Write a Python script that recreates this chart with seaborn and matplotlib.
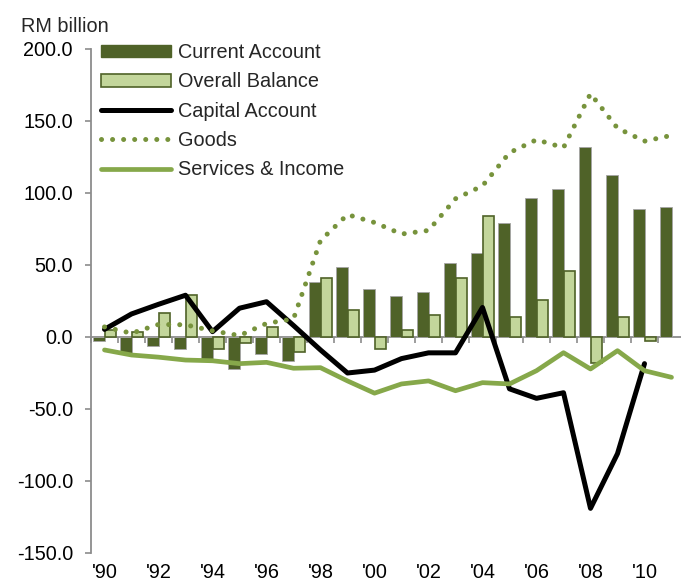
import matplotlib
matplotlib.use("Agg")
import matplotlib.pyplot as plt
from matplotlib.patches import Patch
from matplotlib.lines import Line2D
import seaborn as sns
import numpy as np
import pandas as pd

# |-- data (RM billion) --|
years = ["1990", "1991", "1992", "1993", "1994", "1995", "1996", "1997", "1998", "1999", "2000",
         "2001", "2002", "2003", "2004", "2005", "2006", "2007", "2008", "2009", "2010", "2011"]
tick_labels = ["'90", "", "'92", "", "'94", "", "'96", "", "'98", "", "'00",
               "", "'02", "", "'04", "", "'06", "", "'08", "", "'10", ""]
current_account = [-3, -11, -6, -8.5, -15, -22, -11.5, -17, 38, 48.8, 33,
                   28.6, 31.4, 51.5, 58.5, 79.5, 96.6, 102.8, 131.8, 112.7, 88.6, 90]
overall_balance = [4.6, 3.5, 16.5, 29.5, -8.5, -4, 7, -10.5, 41, 18.7, -8.3,
                   4.8, 15, 40.7, 84, 13.7, 25.5, 45.5, -18, 14, -2.5, np.nan]
capital_account = [5.3, 16, 22.7, 29, 3.7, 20, 24.5, 8, -9, -25, -23,
                   -15, -11, -11, 20.5, -36, -42.6, -38.7, -119, -81, -18.5, np.nan]
goods = [7, 2.6, 8.7, 8.5, 4.3, 1, 9.4, 12.6, 67, 85, 79.5,
         71.5, 74, 96, 105, 128, 137, 131.5, 169, 145, 136, 140]
services_income = [-9, -12.5, -14, -16, -16.5, -18.5, -17.6, -21.7, -21.3, -30.5, -39,
                   -32.6, -30.5, -37.3, -31.7, -32.6, -23.4, -10.9, -22.2, -9.5, -23.4, -28]

DARK = "#4F6228"
LIGHT = "#C3D69B"
GOODS_C = "#77933C"
SERV_C = "#86A84A"
GRAY = "#8C8C8C"
FS = 14.3

sns.set_theme(style="white")
plt.rcParams["font.family"] = ["Liberation Sans", "DejaVu Sans"]
plt.rcParams["font.size"] = FS

bars = pd.DataFrame({
    "year": years * 2,
    "value": current_account + overall_balance,
    "series": ["Current Account"] * len(years) + ["Overall Balance"] * len(years),
})
pos = np.arange(len(years))

fig = plt.figure(figsize=(6.81, 5.85), dpi=100)
ax = fig.add_axes([91 / 681, 32 / 585, 594 / 681, 504 / 585])

sns.barplot(data=bars, x="year", y="value", hue="series", order=years,
            hue_order=["Current Account", "Overall Balance"],
            palette=[DARK, LIGHT], width=0.84, dodge=True, legend=False,
            saturation=1, ax=ax, zorder=2)
n = len(years)
for i, p in enumerate(ax.patches):
    if i < n:
        p.set_edgecolor("#A5A5A5")
        p.set_linewidth(0.6)
    else:
        p.set_edgecolor(DARK)
        p.set_linewidth(1.2)

sns.lineplot(x=pos, y=capital_account, color="black", linewidth=3.6, ax=ax, zorder=4)
sns.lineplot(x=pos, y=goods, color=GOODS_C, linewidth=3.6, linestyle=(0, (0.01, 2.2)),
             dash_capstyle="round", ax=ax, zorder=4)
sns.lineplot(x=pos, y=services_income, color=SERV_C, linewidth=3.4, ax=ax, zorder=4)

ax.set_xlim(-0.5, n - 0.5)
ax.set_ylim(-150, 200)
ax.set_yticks([-150, -100, -50, 0, 50, 100, 150, 200])
ax.set_yticklabels([f"{v:.1f}" for v in ax.get_yticks()])
ax.set_xticks(pos)
ax.set_xticklabels(tick_labels)
ax.set_xlabel("")
ax.set_ylabel("")
ax.tick_params(axis="x", length=0, pad=7, labelsize=FS, colors="black")
ax.tick_params(axis="y", length=4, width=1.2, color=GRAY, direction="out",
               left=True, pad=9, labelsize=FS, labelcolor="black")
for s in ["top", "right", "bottom"]:
    ax.spines[s].set_visible(False)
ax.spines["left"].set_color(GRAY)
ax.spines["left"].set_linewidth(1.3)
ax.grid(False)

# zero axis with category boundary ticks
sec = ax.secondary_xaxis(0, transform=ax.transData)
sec.set_xticks(np.arange(n + 1) - 0.5)
sec.tick_params(length=4.5, width=1.2, color=GRAY, labelbottom=False, direction="out")
sec.spines["bottom"].set_color(GRAY)
sec.spines["bottom"].set_linewidth(1.3)

handles = [
    Patch(facecolor=DARK, edgecolor=DARK),
    Patch(facecolor=LIGHT, edgecolor=DARK, linewidth=1.2),
    Line2D([], [], color="black", linewidth=3.6),
    Line2D([], [], color=GOODS_C, linewidth=3.6, linestyle=(0, (0.01, 2.2)), dash_capstyle="round"),
    Line2D([], [], color=SERV_C, linewidth=3.4),
]
labels = ["Current Account", "Overall Balance", "Capital Account", "Goods", "Services & Income"]
fig.legend(handles, labels, loc="upper left", bbox_to_anchor=(101 / 681, 1 - 43 / 585),
           frameon=False, fontsize=FS, handlelength=3.5, handletextpad=0.4,
           labelspacing=0.52, borderpad=0, borderaxespad=0, handleheight=0.6)

fig.text(21 / 681, 1 - 31.7 / 585, "RM billion", fontsize=FS, va="baseline", ha="left")

fig.savefig("out.png", dpi=100)
